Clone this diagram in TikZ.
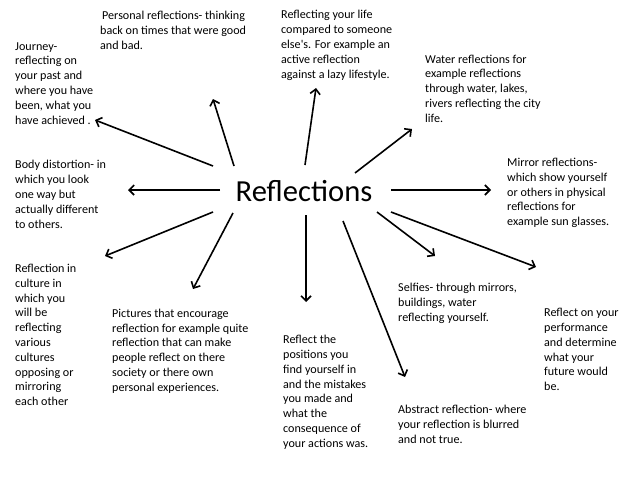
\documentclass[tikz,border=0pt]{standalone}
\usepackage{fontspec}
\setmainfont{Carlito}
\usetikzlibrary{arrows.meta}
\begin{document}
\begin{tikzpicture}[x=1pt,y=-1pt,
  txt/.style={anchor=base west,inner sep=0pt,align=left,font=\fontsize{12.1}{14.8}\selectfont},
  arr/.style={line width=1.6pt,-{Straight Barb[length=5pt,width=10pt,line width=1.6pt]}}]
\useasboundingbox[fill=white] (0,0) rectangle (638,479);
\node[anchor=base,inner sep=0pt,font=\fontsize{30.6}{36}\selectfont] (ctr) at (304,201) {Reflections};

% anchor base of a multi-line node = baseline of its last line
\node[txt] (journey) at (15,124) {Journey-\\reflecting on\\your past and\\where you have\\been, what you\\have achieved .};
\node[txt] (personal) at (100,49) {\hspace{2pt}Personal reflections- thinking\\back on times that were good\\and bad.};
\node[txt] (life) at (281,78) {Reflecting your life\\compared to someone\\else\textquotesingle s. For example an\\active reflection\\against a lazy lifestyle.};
\node[txt] (water) at (425,122.3) {Water reflections for\\example reflections\\through water, lakes,\\rivers reflecting the city\\life.};
\node[txt] (body) at (15,228) {Body distortion- in\\which you look\\one way but\\actually different\\to others.};
\node[txt] (mirror) at (507,225.7) {Mirror reflections-\\which show yourself\\or others in physical\\reflections for\\example sun glasses.};
\node[txt] (culture) at (15,405.7) {Reflection in\\culture in\\which you\\will be\\reflecting\\various\\cultures\\opposing or\\mirroring\\each other};
\node[txt] (pictures) at (112,391.3) {Pictures that encourage\\reflection for example quite\\reflection that can make\\people reflect on there\\society or there own\\personal experiences.};
\node[txt] (positions) at (283,447.3) {Reflect the\\positions you\\find yourself in\\and the mistakes\\you made and\\what the\\consequence of\\your actions was.};
\node[txt] (selfies) at (398,321.3) {Selfies- through mirrors,\\buildings, water\\reflecting yourself.};
\node[txt] (perf) at (544,390.7) {Reflect on your\\performance\\and determine\\what your\\future would\\be.};
\node[txt] (abstract) at (398,443.3) {Abstract reflection- where\\your reflection is blurred\\and not true.};

\coordinate (s1) at (213,166);  \coordinate (e1) at (95,120);
\coordinate (s2) at (234,166);  \coordinate (e2) at (213,99);
\coordinate (s3) at (305,165);  \coordinate (e3) at (316,88);
\coordinate (s4) at (355,173);  \coordinate (e4) at (412,129);
\coordinate (s5) at (220,190);  \coordinate (e5) at (128,190);
\coordinate (s6) at (391,190);  \coordinate (e6) at (491,190);
\coordinate (s7) at (213,212);  \coordinate (e7) at (105,256);
\coordinate (s8) at (233,213);  \coordinate (e8) at (193,289);
\coordinate (s9) at (306,215);  \coordinate (e9) at (306,302);
\coordinate (s10) at (343,221); \coordinate (e10) at (405,377);
\coordinate (s11) at (377,212); \coordinate (e11) at (435,256);
\coordinate (s12) at (391,212); \coordinate (e12) at (536,267);

\foreach \i in {1,...,12} \draw[arr] (s\i) -- (e\i);
\end{tikzpicture}
\end{document}
